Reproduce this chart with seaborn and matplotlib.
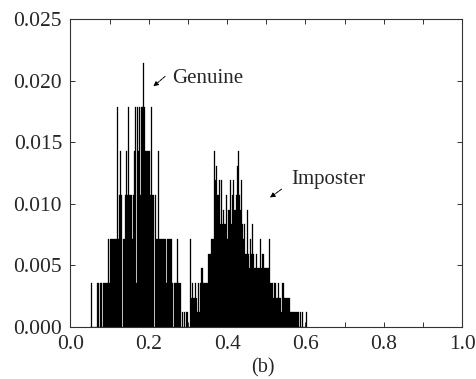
#!/usr/bin/env python3
# -*- coding: utf-8 -*-
"""
Genuine / Imposter score distribution (b)
"""

import numpy as np
import pandas as pd
import matplotlib
matplotlib.use("Agg")
import matplotlib.pyplot as plt
import seaborn as sns

# bin layout shared by both distributions
bin_width = 0.00255

# genuine: counts in units of 1/280, first bin starts at 0.050
genuine_start = 0.050
genuine_counts = [
    0, 1, 0, 0, 0, 0, 0, 1, 1, 0, 1, 1, 0, 1, 1, 1, 1, 1, 2, 1,
    2, 2, 2, 2, 2, 2, 2, 5, 2, 3, 4, 3, 0, 2, 2, 3, 4, 3, 5, 3,
    3, 3, 2, 3, 4, 5, 1, 5, 4, 5, 3, 5, 5, 6, 5, 4, 4, 4, 4, 4,
    3, 5, 3, 3, 0, 3, 2, 2, 4, 2, 2, 2, 2, 2, 2, 2, 1, 2, 2, 2,
    2, 2, 1, 0, 1, 1, 1, 2, 1, 1, 1,
]
genuine_unit = 1 / 280

# imposter: counts in units of 1/840, first bin starts at 0.282
imposter_start = 0.282
imposter_counts = [
    0, 1, 0, 1, 0, 1, 1, 0, 0, 6, 2, 3, 2, 2, 3, 2, 1, 3, 1, 3,
    4, 4, 3, 3, 3, 3, 3, 5, 5, 5, 6, 6, 6, 12, 10, 11, 9, 9, 10, 7,
    10, 7, 8, 7, 7, 9, 6, 8, 8, 10, 7, 9, 10, 8, 8, 9, 11, 12, 9, 8,
    10, 7, 6, 7, 5, 5, 8, 5, 4, 6, 5, 7, 5, 4, 4, 5, 4, 4, 4, 6,
    4, 5, 5, 4, 4, 4, 4, 4, 6, 3, 3, 3, 2, 3, 3, 2, 2, 3, 2, 2,
    1, 3, 3, 2, 2, 2, 2, 2, 2, 1, 1, 1, 1, 1, 1, 1, 1, 1, 0, 1,
    0, 1, 0, 0, 0, 1,
]
imposter_unit = 1 / 840

x_ticks = [0.0, 0.2, 0.4, 0.6, 0.8, 1.0]
y_ticks = [0.000, 0.005, 0.010, 0.015, 0.020, 0.025]

sns.set_style("ticks")
plt.rcParams['font.family'] = ['Liberation Serif', 'DejaVu Serif']
plt.rcParams['axes.edgecolor'] = '#333333'
plt.rcParams['axes.linewidth'] = 0.8

fig = plt.figure(figsize=(4.76, 3.79), dpi=100)
ax = fig.add_axes([0.148, 0.137, 0.823, 0.813])


def draw_dist(start, counts, unit):
    n = len(counts)
    df = pd.DataFrame({
        'score': start + bin_width * (np.arange(n) + 0.5),
        'prob': np.array(counts) * unit,
    })
    sns.histplot(data=df, x='score', weights='prob', binwidth=bin_width,
                 binrange=(start, start + n * bin_width),
                 element="bars", color="black", edgecolor="black",
                 linewidth=0.2, alpha=1.0, ax=ax)


draw_dist(genuine_start, genuine_counts, genuine_unit)
draw_dist(imposter_start, imposter_counts, imposter_unit)

# annotations: label text plus a small arrow pointing at the peak
arrow_kw = dict(arrowstyle='-|>', lw=0.7, color='black',
                mutation_scale=7, shrinkA=0, shrinkB=0, linestyle=(0, (3, 1)))
ax.text(0.2587, 0.0198, 'Genuine', fontsize=15, ha='left', va='baseline')
ax.annotate('', xy=(0.2117, 0.01953), xytext=(0.2416, 0.02034),
            arrowprops=arrow_kw)
ax.text(0.5648, 0.0116, 'Imposter', fontsize=15, ha='left', va='baseline')
ax.annotate('', xy=(0.5094, 0.01051), xytext=(0.539, 0.01119),
            arrowprops=arrow_kw)

ax.set_xlim(0, 1.0)
ax.set_ylim(0, 0.025)
ax.set_xticks(x_ticks)
ax.set_xticklabels([f"{v:.1f}" for v in x_ticks])
ax.set_xticks(np.arange(0.1, 1.0, 0.2), minor=True)
ax.set_yticks(y_ticks)
ax.set_yticklabels([f"{v:.3f}" for v in y_ticks])
ax.tick_params(which='both', direction='in', length=3.5, width=0.7,
               color='#333333', top=True, right=True, labelsize=15.5,
               pad=6)
ax.set_xlabel('(b)', fontsize=14.5)
ax.xaxis.set_label_coords(0.49, -0.10)
ax.set_ylabel('')

plt.savefig('out.png', dpi=100)
